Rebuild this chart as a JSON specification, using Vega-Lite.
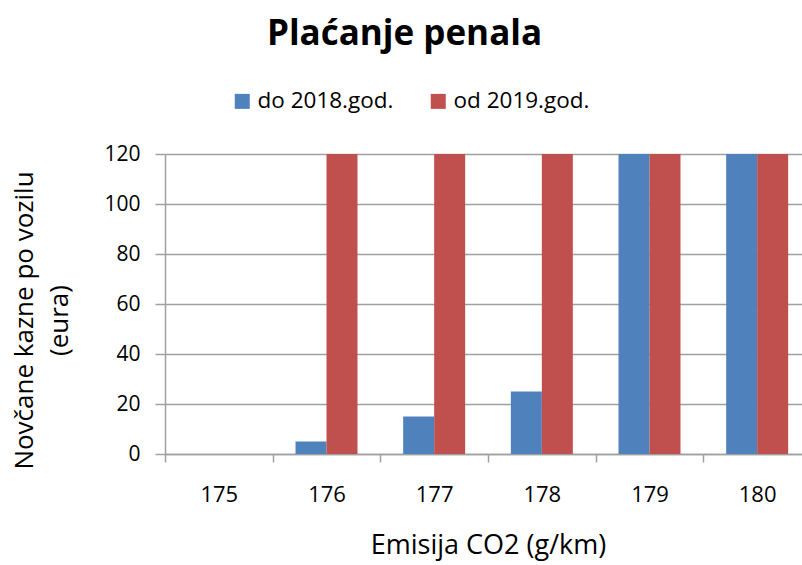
{
  "$schema": "https://vega.github.io/schema/vega-lite/v6.json",
  "width": 637,
  "height": 300,
  "autosize": {"type": "none"},
  "padding": {"left": 165, "top": 154, "right": 0, "bottom": 111},
  "background": "white",
  "title": {
    "text": "Plaćanje penala",
    "font": "Open Sans",
    "fontSize": 35,
    "fontWeight": "bold",
    "color": "#000000",
    "anchor": "middle",
    "frame": "group",
    "dx": -79,
    "offset": 38
  },
  "data": {
    "values": [
      {"emisija": "175", "serija": "do 2018.god.", "kazna": 0},
      {"emisija": "175", "serija": "od 2019.god.", "kazna": 0},
      {"emisija": "176", "serija": "do 2018.god.", "kazna": 5},
      {"emisija": "176", "serija": "od 2019.god.", "kazna": 120},
      {"emisija": "177", "serija": "do 2018.god.", "kazna": 15},
      {"emisija": "177", "serija": "od 2019.god.", "kazna": 120},
      {"emisija": "178", "serija": "do 2018.god.", "kazna": 25},
      {"emisija": "178", "serija": "od 2019.god.", "kazna": 120},
      {"emisija": "179", "serija": "do 2018.god.", "kazna": 120},
      {"emisija": "179", "serija": "od 2019.god.", "kazna": 120},
      {"emisija": "180", "serija": "do 2018.god.", "kazna": 120},
      {"emisija": "180", "serija": "od 2019.god.", "kazna": 120}
    ]
  },
  "mark": {"type": "bar"},
  "encoding": {
    "x": {
      "field": "emisija",
      "type": "nominal",
      "scale": {"range": [0, 646], "paddingInner": 0, "paddingOuter": 0},
      "axis": {
        "title": "Emisija CO2 (g/km)",
        "titleFont": "Open Sans",
        "titleFontSize": 27,
        "titleFontWeight": "normal",
        "titleColor": "#000000",
        "titlePadding": 27,
        "titleX": 323,
        "labelFont": "Open Sans",
        "labelFontSize": 22,
        "labelColor": "#000000",
        "labelAngle": 0,
        "labelPadding": 22,
        "tickBand": "extent",
        "tickSize": 8,
        "tickColor": "#A0A0A0",
        "tickWidth": 1.5,
        "domainColor": "#A0A0A0",
        "domainWidth": 1.5,
        "grid": false
      }
    },
    "xOffset": {
      "field": "serija",
      "type": "nominal",
      "scale": {"paddingInner": 0, "paddingOuter": 0.737}
    },
    "y": {
      "field": "kazna",
      "type": "quantitative",
      "scale": {"domain": [0, 120], "nice": false},
      "axis": {
        "values": [0, 20, 40, 60, 80, 100, 120],
        "title": ["Novčane kazne po vozilu", "(eura)"],
        "titleFont": "Open Sans",
        "titleFontSize": 26,
        "titleFontWeight": "normal",
        "titleColor": "#000000",
        "titleLineHeight": 35,
        "titlePadding": 31,
        "titleY": 166,
        "labelFont": "Open Sans",
        "labelFontSize": 21,
        "labelColor": "#000000",
        "labelPadding": 15,
        "tickSize": 10,
        "tickColor": "#A0A0A0",
        "tickWidth": 1.5,
        "domainColor": "#A0A0A0",
        "domainWidth": 1.5,
        "grid": true,
        "gridColor": "#A0A0A0",
        "gridWidth": 1.5
      }
    },
    "color": {
      "field": "serija",
      "type": "nominal",
      "scale": {"range": ["#4F81BD", "#C0504D"]},
      "legend": {
        "title": null,
        "orient": "none",
        "legendX": 66,
        "legendY": -64,
        "padding": 0,
        "direction": "horizontal",
        "columns": 2,
        "symbolType": "square",
        "symbolSize": 225,
        "symbolStrokeWidth": 0,
        "symbolOpacity": 1,
        "labelFont": "Open Sans",
        "labelFontSize": 22.5,
        "labelColor": "#000000",
        "labelOffset": 4,
        "columnPadding": 33
      }
    }
  },
  "config": {
    "view": {"stroke": null}
  }
}
